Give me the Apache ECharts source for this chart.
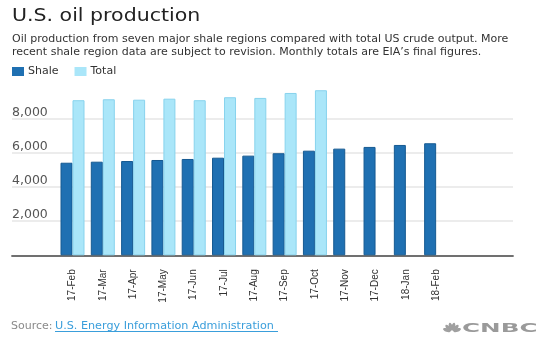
<!DOCTYPE html>
<html>
<head>
<meta charset="utf-8">
<script src="https://cdn.jsdelivr.net/npm/echarts@6/dist/echarts.min.js"></script>
<style>
html,body{margin:0;padding:0;background:#fff;}
#chart{width:550px;height:340px;}
</style>
</head>
<body>
<div id="chart"></div>
<script>
const categories = ['17-Feb','17-Mar','17-Apr','17-May','17-Jun','17-Jul','17-Aug','17-Sep','17-Oct','17-Nov','17-Dec','18-Jan','18-Feb'];
const shale = [5420, 5480, 5520, 5580, 5640, 5715, 5835, 5975, 6125, 6245, 6345, 6460, 6560];
const total = [9080, 9135, 9110, 9170, 9080, 9255, 9215, 9505, 9665, null, null, null, null];
const yTicks = [0, 2000, 4000, 6000, 8000];

const chart = echarts.init(document.getElementById('chart'), null, {renderer: 'canvas'});
const font = 'DejaVu Sans';
const yMax = 10000;
const gridTop = 84.5, gridBottom = 84.7;

// peacock feathers (logo decoration)
const feathers = [];
const cx = 452, cy = 332;
[-70, -42, -14, 14, 42, 70].forEach(function (a) {
  feathers.push({
    type: 'ellipse', x: cx, y: cy, rotation: -a * Math.PI / 180,
    shape: {cx: 0, cy: -5.5, rx: 1.8, ry: 4},
    style: {fill: '#a0a0a0'}
  });
});

chart.setOption({
  animation: false,
  textStyle: {fontFamily: font},
  title: [
    {text: 'Oil production from seven major shale regions compared with total US crude output. More\nrecent shale region data are subject to revision. Monthly totals are EIA\u2019s final figures.',
     left: 12, top: 32, padding: 0,
     textStyle: {fontFamily: font, fontSize: 11, fontWeight: 'normal', color: '#333', lineHeight: 13.5}}
  ],
  legend: {
    left: 12, top: 66, padding: 0, itemWidth: 12, itemHeight: 9, itemGap: 16,
    icon: 'rect',
    itemStyle: {borderWidth: 0},
    textStyle: {fontFamily: font, fontSize: 11, color: '#333', padding: [0,0,0,-1]},
    data: ['Shale', 'Total']
  },
  grid: [
    {left: 12, right: 37, top: gridTop, bottom: gridBottom},
    {left: 57.35, right: 98.7, top: gridTop, bottom: gridBottom}
  ],
  xAxis: [
    {gridIndex: 0, type: 'value', min: 0, max: 1,
     axisLine: {show: true, onZero: false, lineStyle: {color: '#707070', width: 1.8}},
     axisTick: {show: false}, axisLabel: {show: false}, splitLine: {show: false}},
    {gridIndex: 1, type: 'category', data: categories,
     axisLine: {show: false}, axisTick: {show: false},
     axisLabel: {rotate: 90, margin: 14, interval: 0, color: '#333',
       fontFamily: 'Liberation Sans', fontSize: 10}}
  ],
  yAxis: [
    {gridIndex: 0, type: 'value', min: 0, max: yMax, interval: 2000,
     axisLine: {show: false}, axisTick: {show: false},
     splitLine: {show: true, showMaxLine: false, lineStyle: {color: '#e6e6e6', width: 1.5}},
     axisLabel: {inside: true, margin: 0, showMinLabel: false, showMaxLabel: false, color: '#555',
       fontFamily: font, fontSize: 12.5, verticalAlign: 'bottom', lineHeight: 12, padding: 0,
       formatter: v => yTicks.includes(v) ? v.toLocaleString('en-US') : ''}},
    {gridIndex: 1, type: 'value', min: 0, max: yMax, interval: 2000, show: false}
  ],
  series: [
    {name: 'Shale', type: 'bar', xAxisIndex: 1, yAxisIndex: 1, data: shale,
     barWidth: 12, barGap: '0%',
     itemStyle: {color: '#1f70b2', borderColor: '#165a92', borderWidth: 1}},
    {name: 'Total', type: 'bar', xAxisIndex: 1, yAxisIndex: 1, data: total,
     barWidth: 12, barGap: '0%',
     itemStyle: {color: '#aae6f9', borderColor: '#88d3ed', borderWidth: 1}}
  ],
  graphic: [
    {type: 'text', x: 12, y: 7.5, scaleX: 1.14,
     style: {text: 'U.S. oil production', fill: '#222', font: '18px "DejaVu Sans"', textVerticalAlign: 'top'}},
    {type: 'text', left: 11, top: 320.5,
     style: {text: 'Source: ', fill: '#8a8a8a', font: '11px "DejaVu Sans"'}},
    {type: 'text', left: 55, top: 320.5,
     style: {text: 'U.S. Energy Information Administration', fill: '#3a9edb', font: '11.2px "DejaVu Sans"'}},
    {type: 'rect', left: 55, top: 331, shape: {width: 223, height: 1}, style: {fill: '#3a9edb'}},
    {type: 'text', x: 462, y: 322.5, scaleX: 2.05,
     style: {text: 'CNBC', fill: '#9a9a9a', font: 'bold 12px "DejaVu Sans"', textVerticalAlign: 'top'}}
  ].concat(feathers)
});
</script>
</body>
</html>
